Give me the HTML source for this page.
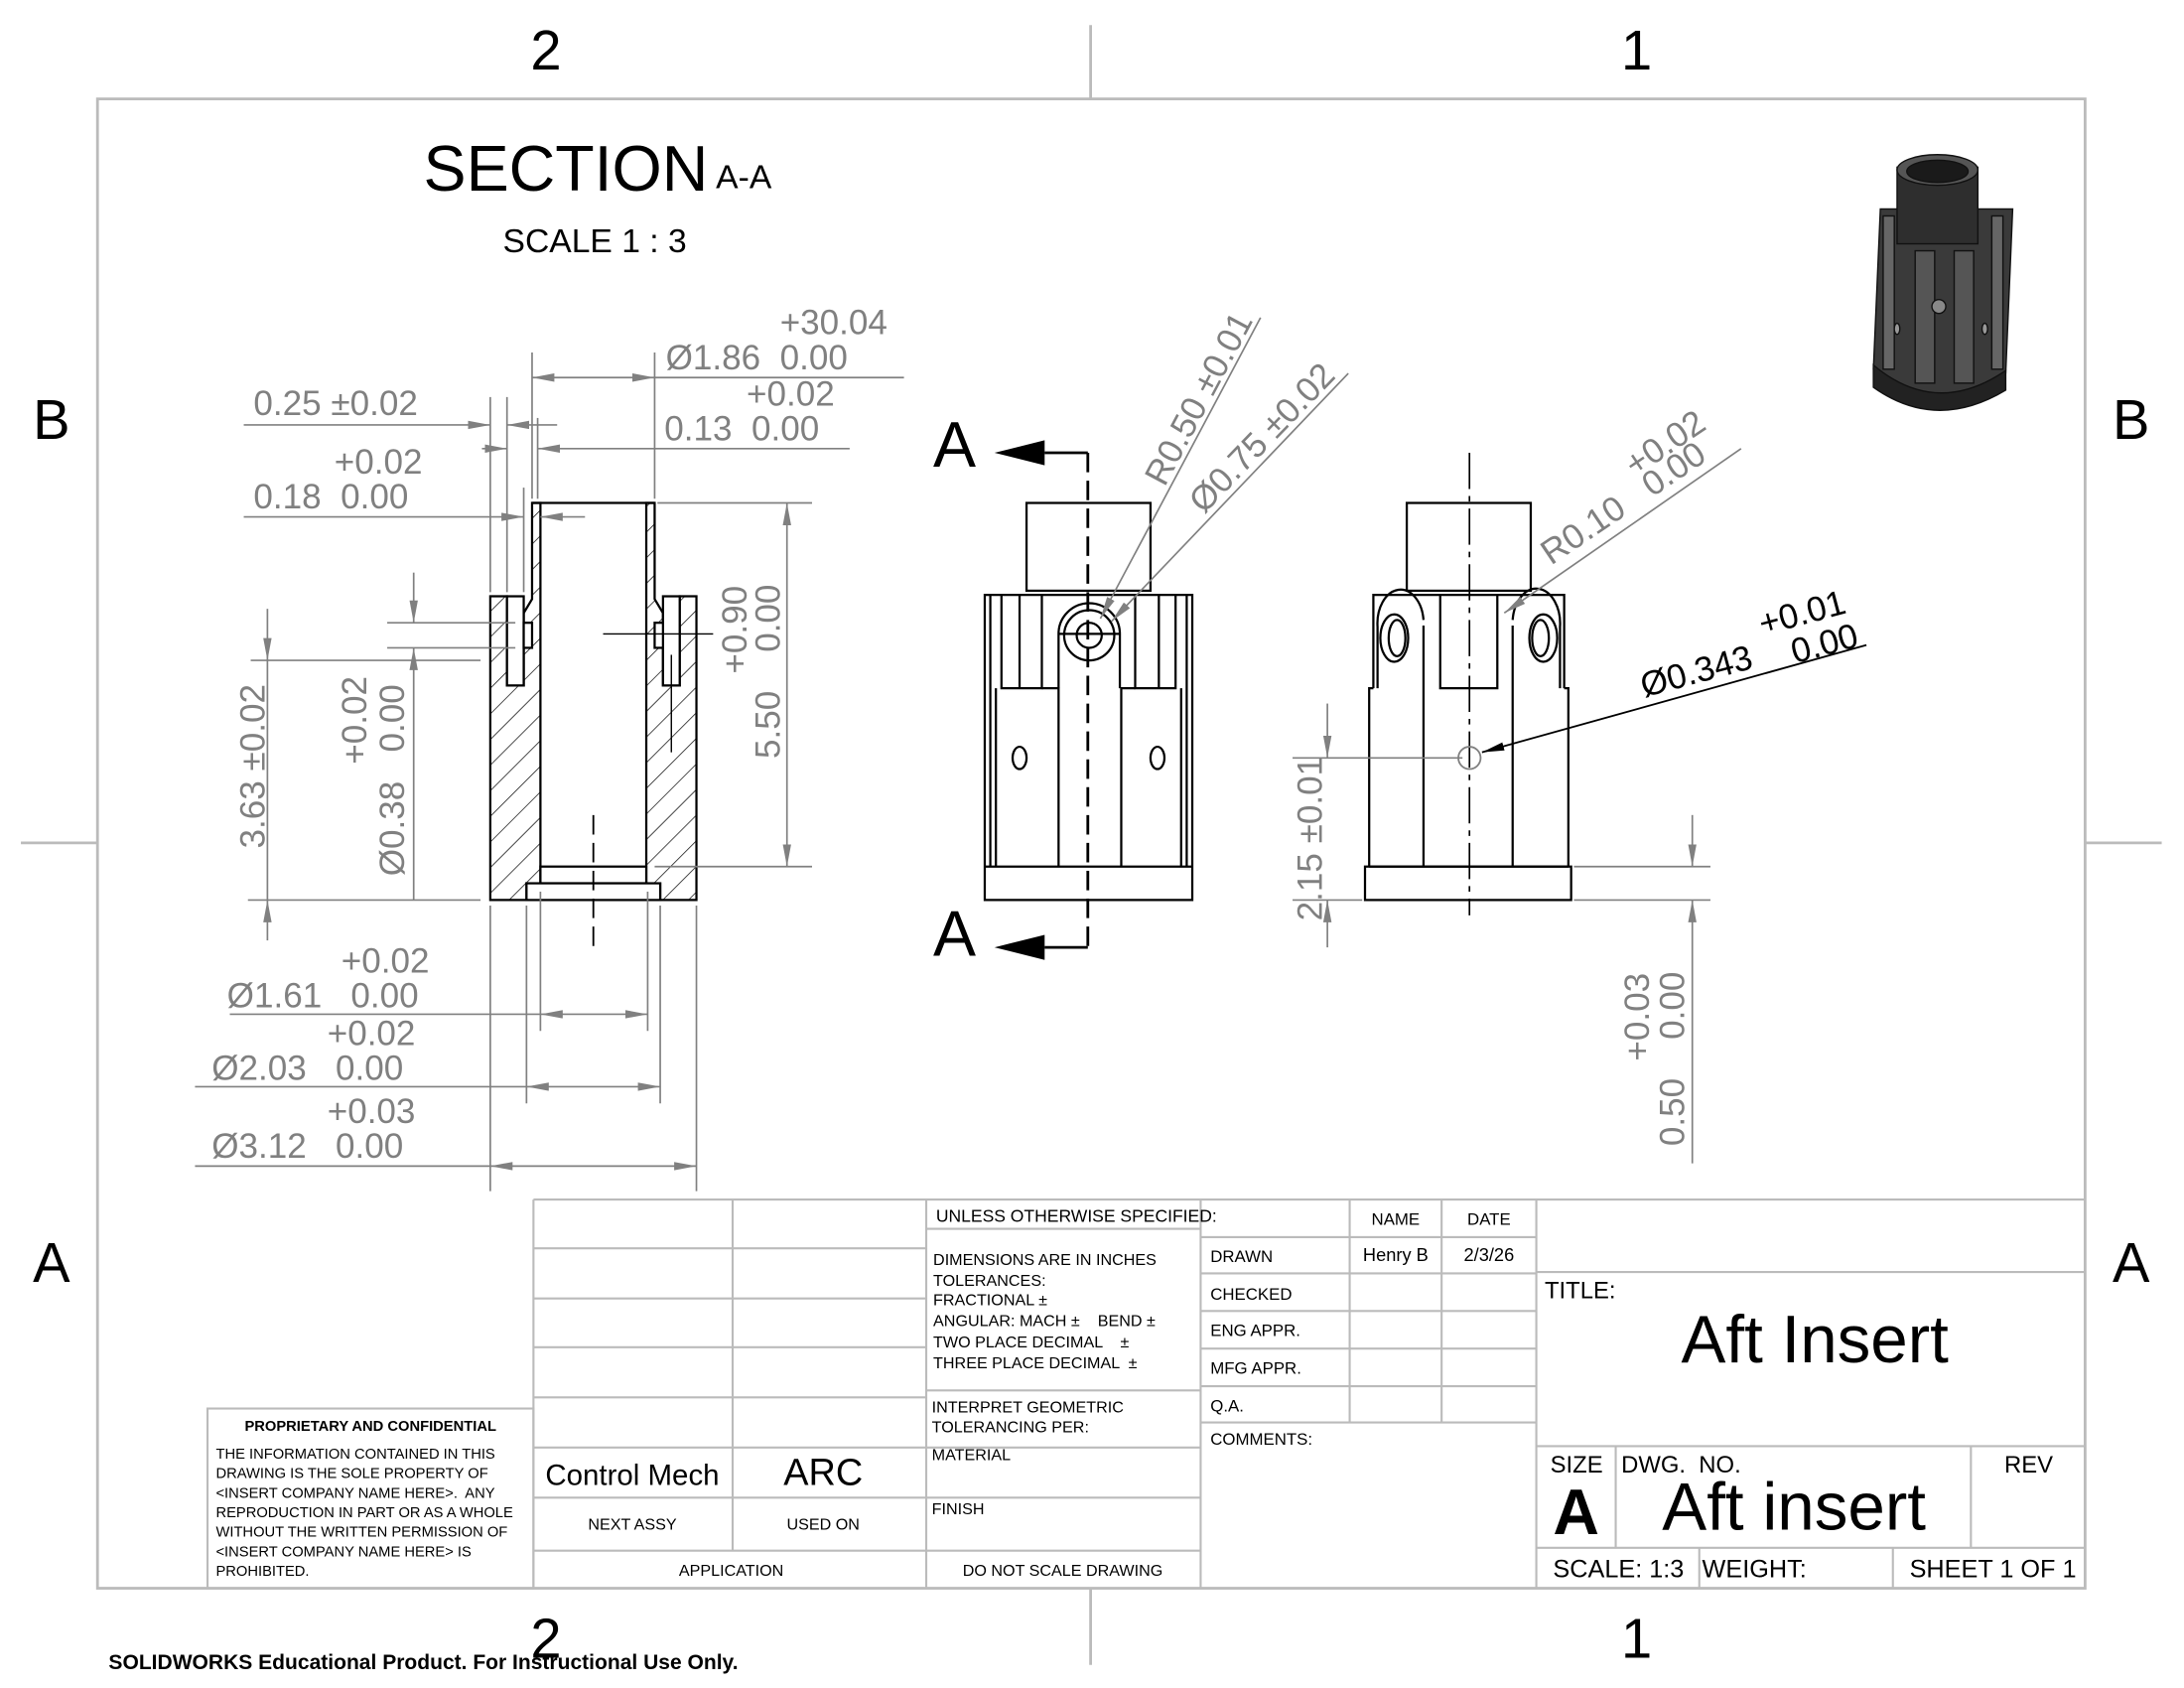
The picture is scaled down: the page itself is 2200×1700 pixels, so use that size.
<!DOCTYPE html>
<html><head><meta charset="utf-8"><style>
html,body{margin:0;padding:0;background:#fff;}
svg{display:block;}
text{font-family:"Liberation Sans",sans-serif;white-space:pre;}
</style></head><body>
<svg width="2200" height="1700" viewBox="0 0 1568 1211.6" preserveAspectRatio="none" xmlns="http://www.w3.org/2000/svg" xml:space="preserve">
<defs>
<marker id="ag" markerUnits="userSpaceOnUse" markerWidth="18" markerHeight="8" refX="16" refY="3" orient="auto-start-reverse"><path d="M0,0 L16,3 L0,6 z" fill="#808080"/></marker>
<marker id="ab" markerUnits="userSpaceOnUse" markerWidth="18" markerHeight="8" refX="16" refY="3" orient="auto-start-reverse"><path d="M0,0 L16,3 L0,6 z" fill="#000"/></marker>
<pattern id="hatch" patternUnits="userSpaceOnUse" width="13" height="13" patternTransform="rotate(45)"><rect width="13" height="13" fill="#fff"/><line x1="0" y1="0" x2="0" y2="13" stroke="#000" stroke-width="1"/></pattern>
</defs>
<rect width="1568" height="1211.6" fill="#fff"/>

<g stroke="#bbb" stroke-width="2" fill="none">
<rect x="70" y="71" width="1427" height="1069"/>
<line x1="783" y1="18" x2="783" y2="71"/><line x1="783" y1="1140" x2="783" y2="1195"/>
<line x1="15" y1="605" x2="70" y2="605"/><line x1="1497" y1="605" x2="1552" y2="605"/>
</g>
<g font-size="40" fill="#000" text-anchor="middle">
<text x="392" y="50">2</text><text x="1175" y="50">1</text>
<text x="392" y="1190">2</text><text x="1175" y="1190">1</text>
<text x="37" y="315">B</text><text x="1530" y="315">B</text>
<text x="37" y="920">A</text><text x="1530" y="920">A</text>
</g>

<text x="304" y="137" font-size="46">SECTION</text>
<text x="514" y="135" font-size="24">A-A</text>
<text x="361" y="181" font-size="24">SCALE 1 : 3</text>

<g stroke="#000" stroke-width="1.6">
<polygon fill="url(#hatch)" points="352,428 364,428 364,492 376,492 376,440 382,430 382,361 388,361 388,634 378,634 378,646 352,646"/>
<polygon fill="url(#hatch)" points="500,428 488,428 488,492 476,492 476,440 470,430 470,361 464,361 464,634 474,634 474,646 500,646"/>
<rect x="364" y="428" width="12" height="64" fill="#fff"/>
<rect x="476" y="428" width="12" height="64" fill="#fff"/>
<rect x="376" y="447" width="6" height="18" fill="#fff"/>
<rect x="470" y="447" width="6" height="18" fill="#fff"/>
<line x1="382" y1="361" x2="470" y2="361"/>
<rect x="388" y="622" width="76" height="12" fill="#fff"/>
<rect x="378" y="634" width="96" height="12" fill="#fff"/>
</g>
<line x1="426" y1="585" x2="426" y2="680" stroke="#000" stroke-width="1.3" stroke-dasharray="14,6"/>
<line x1="433" y1="455" x2="512" y2="455" stroke="#000" stroke-width="1"/>
<line x1="482" y1="470" x2="482" y2="540" stroke="#000" stroke-width="1"/>

<g stroke="#808080" stroke-width="1.2" fill="none">
<line x1="382" y1="253" x2="382" y2="358"/><line x1="470" y1="253" x2="470" y2="358"/>
<line x1="382" y1="271" x2="470" y2="271" marker-start="url(#ag)" marker-end="url(#ag)"/>
<line x1="470" y1="271" x2="649" y2="271"/>
<line x1="352" y1="285" x2="352" y2="425"/><line x1="364" y1="285" x2="364" y2="425"/>
<line x1="376" y1="350" x2="376" y2="425"/><line x1="386" y1="300" x2="386" y2="358"/>
<line x1="175" y1="305" x2="352" y2="305" marker-end="url(#ag)"/>
<line x1="400" y1="305" x2="364" y2="305" marker-end="url(#ag)"/>
<line x1="346" y1="322" x2="364" y2="322" marker-end="url(#ag)"/>
<line x1="610" y1="322" x2="386" y2="322" marker-end="url(#ag)"/>
<line x1="175" y1="371" x2="376" y2="371" marker-end="url(#ag)"/>
<line x1="420" y1="371" x2="388" y2="371" marker-end="url(#ag)"/>
<line x1="180" y1="474" x2="345" y2="474"/><line x1="178" y1="646" x2="345" y2="646"/>
<line x1="192" y1="437" x2="192" y2="474" marker-end="url(#ag)"/>
<line x1="192" y1="474" x2="192" y2="646"/>
<line x1="192" y1="675" x2="192" y2="646" marker-end="url(#ag)"/>
<line x1="278" y1="447" x2="370" y2="447"/><line x1="278" y1="465" x2="370" y2="465"/>
<line x1="297" y1="411" x2="297" y2="447" marker-end="url(#ag)"/>
<line x1="297" y1="646" x2="297" y2="465" marker-end="url(#ag)"/>
<line x1="472" y1="361" x2="583" y2="361"/><line x1="470" y1="622" x2="583" y2="622"/>
<line x1="565" y1="361" x2="565" y2="622" marker-start="url(#ag)" marker-end="url(#ag)"/>
<line x1="352" y1="650" x2="352" y2="855"/><line x1="500" y1="650" x2="500" y2="855"/>
<line x1="378" y1="650" x2="378" y2="792"/><line x1="474" y1="650" x2="474" y2="792"/>
<line x1="388" y1="640" x2="388" y2="740"/><line x1="465" y1="640" x2="465" y2="740"/>
<line x1="165" y1="728" x2="388" y2="728"/>
<line x1="388" y1="728" x2="465" y2="728" marker-start="url(#ag)" marker-end="url(#ag)"/>
<line x1="140" y1="780" x2="378" y2="780"/>
<line x1="378" y1="780" x2="474" y2="780" marker-start="url(#ag)" marker-end="url(#ag)"/>
<line x1="140" y1="837" x2="352" y2="837"/>
<line x1="352" y1="837" x2="500" y2="837" marker-start="url(#ag)" marker-end="url(#ag)"/>
</g>
<g fill="#808080" font-size="25">
<text x="560" y="240">+30.04</text>
<text x="478" y="265">Ø1.86  0.00</text>
<text x="182" y="298">0.25 ±0.02</text>
<text x="536" y="291">+0.02</text>
<text x="477" y="316">0.13  0.00</text>
<text x="240" y="340">+0.02</text>
<text x="182" y="365">0.18  0.00</text>
<text transform="translate(190,550) rotate(-90)" text-anchor="middle">3.63 ±0.02</text>
<text transform="translate(263,517) rotate(-90)" text-anchor="middle">+0.02</text>
<text transform="translate(290,560) rotate(-90)" text-anchor="middle">Ø0.38   0.00</text>
<text transform="translate(536,452) rotate(-90)" text-anchor="middle">+0.90</text>
<text transform="translate(560,482) rotate(-90)" text-anchor="middle">5.50    0.00</text>
<text x="245" y="698">+0.02</text>
<text x="163" y="723">Ø1.61   0.00</text>
<text x="235" y="750">+0.02</text>
<text x="152" y="775">Ø2.03   0.00</text>
<text x="235" y="806">+0.03</text>
<text x="152" y="831">Ø3.12   0.00</text>
</g>

<g stroke="#000" stroke-width="1.6" fill="none">
<rect x="737" y="361" width="89" height="63"/>
<path d="M707,427 L856,427 L856,646 L707,646 Z"/>
<line x1="711" y1="427" x2="711" y2="622"/><line x1="852" y1="427" x2="852" y2="622"/>
<line x1="707" y1="622" x2="856" y2="622"/>
<polyline points="719,427 719,494 748,494 748,427"/><line x1="732" y1="427" x2="732" y2="494"/>
<polyline points="844,427 844,494 815,494 815,427"/><line x1="832" y1="427" x2="832" y2="494"/>
<polyline points="715,494 715,622"/><polyline points="760,622 760,494 748,494"/>
<polyline points="848,494 848,622"/><polyline points="805,622 805,494 815,494"/>
<path d="M760,494 L760,455 A22,22 0 0 1 804,455 L804,494"/>
<circle cx="782" cy="456" r="18"/><circle cx="782" cy="456" r="9"/>
<line x1="760" y1="455" x2="804" y2="455"/>
<ellipse cx="732" cy="544" rx="5" ry="8"/><ellipse cx="831" cy="544" rx="5" ry="8"/>
</g>
<line x1="781" y1="325" x2="781" y2="683" stroke="#000" stroke-width="2" stroke-dasharray="14,6"/>
<polyline points="750,325 781,325" stroke="#000" stroke-width="2" fill="none"/>
<polyline points="750,680 781,680" stroke="#000" stroke-width="2" fill="none"/>
<polygon points="714,325 750,316 750,334" fill="#000"/>
<polygon points="714,680 750,671 750,689" fill="#000"/>
<text x="670" y="335" font-size="46">A</text>
<text x="670" y="686" font-size="46">A</text>
<g stroke="#808080" stroke-width="1.2">
<line x1="905" y1="228" x2="790" y2="444" marker-end="url(#ag)"/>
<line x1="968" y1="268" x2="798" y2="446" marker-end="url(#ag)"/>
</g>
<g fill="#808080" font-size="25" text-anchor="middle">
<text transform="translate(868,290) rotate(-62)">R0.50 ±0.01</text>
<text transform="translate(912,320) rotate(-46)">Ø0.75 ±0.02</text>
</g>

<g stroke="#000" stroke-width="1.6" fill="none">
<rect x="1010" y="361" width="89" height="63"/>
<polyline points="986,494 986,427 1123,427 1123,494"/>
<polyline points="983,622 983,494 986,494"/><polyline points="1126,622 1126,494 1123,494"/>
<rect x="980" y="622" width="148" height="24"/>
<line x1="983" y1="622" x2="1126" y2="622"/>
<polyline points="1034,427 1034,494 1075,494 1075,427"/>
<line x1="1022" y1="449" x2="1022" y2="622"/><line x1="1086" y1="449" x2="1086" y2="622"/>
<path d="M989,494 L989,450 A15,22 0 0 1 1022,445"/>
<path d="M1120,494 L1120,450 A15,22 0 0 0 1086,445"/>
<ellipse cx="1001" cy="458" rx="10" ry="17"/><ellipse cx="1003" cy="458" rx="6" ry="13"/>
<ellipse cx="1108" cy="458" rx="10" ry="17"/><ellipse cx="1106" cy="458" rx="6" ry="13"/>
</g>
<line x1="1055" y1="325" x2="1055" y2="657" stroke="#000" stroke-width="1.2" stroke-dasharray="26,5,4,5"/>
<circle cx="1055" cy="544" r="8" fill="none" stroke="#808080" stroke-width="1.3"/>
<line x1="1340" y1="463" x2="1064" y2="540" stroke="#000" stroke-width="1.3" marker-end="url(#ab)"/>
<g font-size="25" text-anchor="middle" fill="#000">
<text transform="translate(1220,490) rotate(-15)">Ø0.343</text>
<text transform="translate(1296,448) rotate(-15)">+0.01</text>
<text transform="translate(1312,470) rotate(-15)">0.00</text>
</g>
<g stroke="#808080" stroke-width="1.2">
<line x1="1250" y1="322" x2="1080" y2="440" marker-end="url(#ag)"/>
<line x1="928" y1="544" x2="1050" y2="544"/><line x1="928" y1="646" x2="978" y2="646"/>
<line x1="953" y1="505" x2="953" y2="544" marker-end="url(#ag)"/>
<line x1="953" y1="680" x2="953" y2="646" marker-end="url(#ag)"/>
<line x1="1130" y1="622" x2="1228" y2="622"/><line x1="1130" y1="646" x2="1228" y2="646"/>
<line x1="1215" y1="585" x2="1215" y2="622" marker-end="url(#ag)"/>
<line x1="1215" y1="835" x2="1215" y2="646" marker-end="url(#ag)"/>
</g>
<g fill="#808080" font-size="25" text-anchor="middle">
<text transform="translate(1170,368) rotate(-34)">R0.10   0.00</text>
<text transform="translate(1200,325) rotate(-34)">+0.02</text>
<text transform="translate(949,602) rotate(-90)">2.15 ±0.01</text>
<text transform="translate(1184,730) rotate(-90)">+0.03</text>
<text transform="translate(1209,760) rotate(-90)">0.50    0.00</text>
</g>

<g stroke="#111" stroke-width="1">
<path d="M1350,150 L1345,265 Q1390,300 1440,268 L1445,150 Z" fill="#3a3a3a"/>
<path d="M1345,262 Q1390,300 1440,266 L1440,280 Q1390,310 1345,278 Z" fill="#222"/>
<rect x="1362" y="120" width="58" height="55" fill="#2e2e2e"/>
<ellipse cx="1391" cy="122" rx="29" ry="11" fill="#555"/>
<ellipse cx="1391" cy="123" rx="22" ry="8" fill="#1a1a1a"/>
<rect x="1375" y="180" width="14" height="95" fill="#555"/>
<rect x="1403" y="180" width="14" height="95" fill="#555"/>
<rect x="1352" y="155" width="8" height="110" fill="#666"/>
<rect x="1430" y="155" width="8" height="110" fill="#666"/>
<circle cx="1392" cy="220" r="5" fill="#888"/>
<ellipse cx="1362" cy="236" rx="2" ry="4" fill="#999"/><ellipse cx="1425" cy="236" rx="2" ry="4" fill="#999"/>
</g>

<g stroke="#bbb" stroke-width="1.5" fill="none">
<line x1="383" y1="861" x2="1497" y2="861"/>
<line x1="383" y1="861" x2="383" y2="1140"/><line x1="526" y1="861" x2="526" y2="1113"/>
<line x1="665" y1="861" x2="665" y2="1140"/><line x1="862" y1="861" x2="862" y2="1140"/>
<line x1="383" y1="896" x2="665" y2="896"/><line x1="383" y1="932" x2="665" y2="932"/>
<line x1="383" y1="967" x2="665" y2="967"/><line x1="383" y1="1003" x2="665" y2="1003"/>
<line x1="383" y1="1039" x2="862" y2="1039"/><line x1="383" y1="1075" x2="862" y2="1075"/>
<line x1="383" y1="1113" x2="862" y2="1113"/>
<line x1="665" y1="882" x2="862" y2="882"/><line x1="665" y1="998" x2="862" y2="998"/>
<rect x="149" y="1011" width="234" height="129"/>
<line x1="969" y1="861" x2="969" y2="1021"/><line x1="1035" y1="861" x2="1035" y2="1021"/>
<line x1="1103" y1="861" x2="1103" y2="1140"/>
<line x1="862" y1="888" x2="1103" y2="888"/><line x1="862" y1="914" x2="1103" y2="914"/>
<line x1="862" y1="941" x2="1103" y2="941"/><line x1="862" y1="968" x2="1103" y2="968"/>
<line x1="862" y1="995" x2="1103" y2="995"/><line x1="862" y1="1021" x2="1103" y2="1021"/>
<line x1="1103" y1="913" x2="1497" y2="913"/><line x1="1103" y1="1038" x2="1497" y2="1038"/>
<line x1="1103" y1="1111" x2="1497" y2="1111"/>
<line x1="1160" y1="1038" x2="1160" y2="1111"/><line x1="1415" y1="1038" x2="1415" y2="1111"/>
<line x1="1220" y1="1111" x2="1220" y2="1140"/><line x1="1359" y1="1111" x2="1359" y2="1140"/>
</g>
<g fill="#000">
<text x="672" y="877" font-size="12.5">UNLESS OTHERWISE SPECIFIED:</text>
<g font-size="11.5">
<text x="670" y="908">DIMENSIONS ARE IN INCHES</text>
<text x="670" y="923">TOLERANCES:</text>
<text x="670" y="937">FRACTIONAL ±</text>
<text x="670" y="952">ANGULAR: MACH ±    BEND ±</text>
<text x="670" y="967">TWO PLACE DECIMAL    ±</text>
<text x="670" y="982">THREE PLACE DECIMAL  ±</text>
<text x="669" y="1014">INTERPRET GEOMETRIC</text>
<text x="669" y="1028">TOLERANCING PER:</text>
<text x="669" y="1048">MATERIAL</text>
<text x="669" y="1087">FINISH</text>
</g>
<text x="454" y="1066" font-size="21" text-anchor="middle">Control Mech</text>
<text x="591" y="1066" font-size="27" text-anchor="middle">ARC</text>
<text x="454" y="1098" font-size="11.5" text-anchor="middle">NEXT ASSY</text>
<text x="591" y="1098" font-size="11.5" text-anchor="middle">USED ON</text>
<text x="525" y="1131" font-size="11.5" text-anchor="middle">APPLICATION</text>
<text x="763" y="1131" font-size="11.5" text-anchor="middle">DO NOT SCALE DRAWING</text>
<text x="266" y="1027" font-size="10.5" font-weight="bold" text-anchor="middle">PROPRIETARY AND CONFIDENTIAL</text>
<g font-size="10.5">
<text x="155" y="1047">THE INFORMATION CONTAINED IN THIS</text>
<text x="155" y="1061">DRAWING IS THE SOLE PROPERTY OF</text>
<text x="155" y="1075">&lt;INSERT COMPANY NAME HERE&gt;.  ANY</text>
<text x="155" y="1089">REPRODUCTION IN PART OR AS A WHOLE</text>
<text x="155" y="1103">WITHOUT THE WRITTEN PERMISSION OF</text>
<text x="155" y="1117">&lt;INSERT COMPANY NAME HERE&gt; IS</text>
<text x="155" y="1131">PROHIBITED.</text>
</g>
<g font-size="12">
<text x="1002" y="879" text-anchor="middle">NAME</text>
<text x="1069" y="879" text-anchor="middle">DATE</text>
<text x="869" y="906">DRAWN</text>
<text x="1002" y="905" text-anchor="middle" font-size="13">Henry B</text>
<text x="1069" y="905" text-anchor="middle" font-size="13">2/3/26</text>
<text x="869" y="933">CHECKED</text>
<text x="869" y="959">ENG APPR.</text>
<text x="869" y="986">MFG APPR.</text>
<text x="869" y="1013">Q.A.</text>
<text x="869" y="1037">COMMENTS:</text>
</g>
<text x="1109" y="932" font-size="17">TITLE:</text>
<text x="1303" y="978" font-size="48" text-anchor="middle">Aft Insert</text>
<text x="1113" y="1057" font-size="17">SIZE</text>
<text x="1115" y="1101" font-size="46" font-weight="bold">A</text>
<text x="1164" y="1057" font-size="17">DWG.  NO.</text>
<text x="1288" y="1098" font-size="48" text-anchor="middle">Aft insert</text>
<text x="1439" y="1057" font-size="17">REV</text>
<text x="1115" y="1132" font-size="18">SCALE: 1:3</text>
<text x="1222" y="1132" font-size="18">WEIGHT:</text>
<text x="1371" y="1132" font-size="18">SHEET 1 OF 1</text>
<text x="78" y="1198" font-size="15" font-weight="bold">SOLIDWORKS Educational Product. For Instructional Use Only.</text>
</g>
</svg>
</body></html>
